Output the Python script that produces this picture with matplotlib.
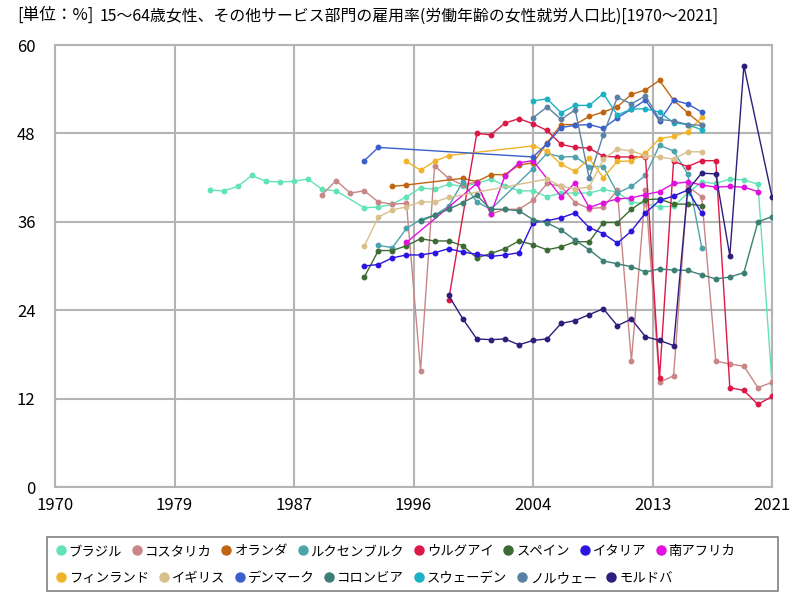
import matplotlib as mpl
import matplotlib.pyplot as plt
from matplotlib.patches import Rectangle

mpl.rcParams['font.family'] = ['Noto Sans CJK JP', 'DejaVu Sans']
mpl.rcParams['axes.unicode_minus'] = False

brazil_years = [1981, 1982, 1983, 1984, 1985, 1986, 1987, 1988, 1989, 1990,
                1992, 1993, 1994, 1995, 1996, 1997, 1998, 1999, 2000, 2001,
                2002, 2003, 2004, 2005, 2006, 2007, 2008, 2009, 2010, 2011,
                2012, 2013, 2014, 2015, 2016, 2017, 2018, 2019, 2020, 2021]
brazil_vals = [40.3, 40.2, 40.8, 42.3, 41.5, 41.4, 41.5, 41.8, 40.4, 40.2,
               37.9, 38.0, 38.4, 39.4, 40.6, 40.4, 41.1, 40.8, 41.2, 41.8,
               40.9, 40.2, 40.2, 39.4, 39.9, 39.9, 39.9, 40.4, 40.0, 38.7,
               38.4, 38.05, 38.1, 39.9, 41.4, 41.2, 41.8, 41.7, 41.1, 14.1]

costa_years = [1989, 1990, 1991, 1992, 1993, 1994, 1995, 1996, 1997, 1998,
               1999, 2000, 2001, 2002, 2003, 2004, 2005, 2006, 2007, 2008,
               2009, 2010, 2011, 2012, 2013, 2014, 2015, 2016, 2017, 2018,
               2019, 2020, 2021]
costa_vals = [39.7, 41.6, 39.9, 40.2, 38.7, 38.4, 38.5, 15.8, 43.6, 41.9,
              41.0, 41.4, 37.05, 37.7, 37.7, 38.9, 41.2, 40.8, 38.6, 37.8,
              37.95, 40.3, 17.1, 40.3, 14.2, 15.1, 40.8, 39.4, 17.1, 16.7,
              16.4, 13.5, 14.2]

nether_years = [1994, 1995, 1999, 2000, 2001, 2002, 2003, 2004, 2005, 2006,
                2007, 2008, 2009, 2010, 2011, 2012, 2013, 2014, 2015, 2016]
nether_vals = [40.8, 41.0, 41.9, 41.45, 42.4, 42.4, 43.7, 44.0, 46.7, 49.2,
               49.2, 50.3, 50.9, 51.6, 53.3, 53.9, 55.2, 52.5, 50.8, 49.2]

lux_years = [1993, 1994, 1995, 1996, 1997, 1998, 1999, 2000, 2001, 2004,
             2005, 2006, 2007, 2008, 2009, 2010, 2011, 2012, 2013, 2014,
             2015, 2016]
lux_vals = [32.8, 32.5, 35.1, 36.3, 36.9, 38.1, 41.4, 38.7, 37.7, 43.2,
            45.3, 44.8, 44.85, 43.5, 43.5, 39.9, 40.8, 42.3, 46.4, 45.6,
            42.5, 32.5]

uru_years = [1998, 2000, 2001, 2002, 2003, 2004, 2005, 2006, 2007, 2008,
             2009, 2010, 2011, 2012, 2013, 2014, 2015, 2016, 2017, 2018,
             2019, 2020, 2021]
uru_vals = [25.4, 48.0, 47.8, 49.4, 50.0, 49.3, 48.4, 46.5, 46.1, 46.0,
            44.9, 44.8, 44.8, 44.8, 14.8, 44.2, 43.5, 44.3, 44.3, 13.5,
            13.1, 11.2, 12.3]

spain_years = list(range(1992, 2017))
spain_vals = [28.5, 32.1, 32.1, 32.75, 33.7, 33.4, 33.4, 32.75, 31.1, 31.7,
              32.35, 33.4, 32.9, 32.2, 32.6, 33.3, 33.3, 35.9, 35.9, 37.7,
              39.0, 39.1, 38.4, 38.4, 38.2]

italy_years = list(range(1992, 2017))
italy_vals = [30.0, 30.2, 31.1, 31.5, 31.5, 31.8, 32.35, 31.9, 31.6, 31.3,
              31.5, 31.8, 35.9, 36.15, 36.55, 37.2, 35.2, 34.4, 33.1, 34.75,
              37.2, 38.9, 39.5, 40.3, 37.15]

safrica_years = [1995, 2000, 2001, 2002, 2003, 2004, 2006, 2007, 2008, 2009,
                 2010, 2011, 2012, 2013, 2014, 2015, 2016, 2017, 2018, 2019,
                 2020]
safrica_vals = [33.2, 41.2, 37.1, 42.2, 44.0, 44.3, 39.4, 41.3, 37.95, 38.6,
                39.1, 39.25, 39.7, 40.1, 41.2, 41.4, 41.0, 40.7, 40.8, 40.7,
                40.1]

fin_years = [1995, 1996, 1997, 1998, 2004, 2005, 2006, 2007, 2008, 2009,
             2010, 2011, 2012, 2013, 2014, 2015, 2016]
fin_vals = [44.2, 43.0, 44.2, 45.0, 46.3, 45.6, 43.8, 42.85, 44.6, 42.0,
            44.2, 44.25, 45.3, 47.3, 47.6, 48.2, 50.2]

uk_years = [1992, 1993, 1994, 1995, 1996, 1997, 1998, 2005, 2006, 2007,
            2008, 2009, 2010, 2011, 2012, 2013, 2014, 2015, 2016]
uk_vals = [32.7, 36.65, 37.6, 38.05, 38.7, 38.7, 39.3, 41.8, 40.8, 40.5,
           40.7, 44.5, 45.9, 45.6, 45.0, 44.8, 44.5, 45.5, 45.5]

den_years = [1992, 1993, 2004, 2005, 2006, 2007, 2008, 2009, 2010, 2011,
             2012, 2013, 2014, 2015, 2016]
den_vals = [44.3, 46.1, 44.8, 46.6, 48.8, 49.1, 49.2, 48.7, 50.1, 51.3,
            52.5, 49.7, 52.5, 52.0, 50.9]

col_years = list(range(1996, 2022))
col_vals = [36.1, 36.9, 37.7, 38.6, 39.6, 37.7, 37.7, 37.5, 36.3, 35.85,
            34.9, 33.5, 32.2, 30.7, 30.3, 29.9, 29.2, 29.6, 29.45, 29.4,
            28.8, 28.25, 28.5, 29.1, 36.0, 36.7]

swe_years = list(range(2004, 2017))
swe_vals = [52.4, 52.7, 50.8, 51.8, 51.8, 53.4, 50.5, 51.3, 51.35, 50.9,
            49.45, 49.2, 48.5]

nor_years = list(range(2004, 2017))
nor_vals = [50.1, 51.6, 49.9, 51.2, 41.9, 47.8, 52.9, 52.0, 53.1, 49.9,
            49.7, 49.2, 49.1]

mol_years = [1998, 1999, 2000, 2001, 2002, 2003, 2004, 2005, 2006, 2007,
             2008, 2009, 2010, 2011, 2012, 2013, 2014, 2015, 2016, 2017,
             2018, 2019, 2021]
mol_vals = [26.0, 22.85, 20.1, 20.0, 20.1, 19.3, 19.9, 20.1, 22.2, 22.6,
            23.4, 24.2, 21.9, 22.8, 20.4, 19.9, 19.2, 40.3, 42.6, 42.5,
            31.4, 57.2, 39.4]

names = ['ブラジル', 'コスタリカ', 'オランダ', 'ルクセンブルク', 'ウルグアイ', 'スペイン',
         'イタリア', '南アフリカ', 'フィンランド', 'イギリス', 'デンマーク', 'コロンビア',
         'スウェーデン', 'ノルウェー', 'モルドバ']
series = [(brazil_years, brazil_vals), (costa_years, costa_vals),
          (nether_years, nether_vals), (lux_years, lux_vals),
          (uru_years, uru_vals), (spain_years, spain_vals),
          (italy_years, italy_vals), (safrica_years, safrica_vals),
          (fin_years, fin_vals), (uk_years, uk_vals),
          (den_years, den_vals), (col_years, col_vals),
          (swe_years, swe_vals), (nor_years, nor_vals),
          (mol_years, mol_vals)]
colors = ['#62e3b6', '#c98687', '#c0640f', '#4ca3ac', '#dc1846', '#3c6b33',
          '#2b14e0', '#e010e0', '#f0b32a', '#d9bf8b', '#3a5fcd', '#3d7f74',
          '#1bb1c4', '#5b80a6', '#2f1c7c']

fig = plt.figure(figsize=(8, 6), dpi=100)
ax = fig.add_axes([55 / 800, 113 / 600, 717 / 800, 442 / 600])

handles = []
for (yrs, vals), name, c in zip(series, names, colors):
    ax.plot(yrs, vals, color=c, lw=1.0, marker='o', ms=3.2, zorder=3)
    h, = ax.plot([], [], ls='none', marker='o', ms=6.5, color=c, label=name)
    handles.append(h)

ax.set_xlim(1970, 2021)
ax.set_ylim(0, 60)
xt = [1970 + i * 51 / 6 for i in range(7)]
ax.set_xticks(xt)
ax.set_xticklabels(['1970', '1979', '1987', '1996', '2004', '2013', '2021'], fontsize=12)
ax.set_yticks(range(0, 61, 12))
ax.set_yticklabels([str(v) for v in range(0, 61, 12)], fontsize=12)
ax.tick_params(axis='x', length=0, pad=7)
ax.tick_params(axis='y', length=0, pad=14)
ax.grid(True, color='#b4b4b4', lw=1.5)
for s in ax.spines.values():
    s.set_color('#b4b4b4')
    s.set_linewidth(1.5)
ax.set_axisbelow(True)

fig.text(17 / 800, 1 - 15 / 600, '[単位：%]', fontsize=12, va='center', ha='left')
fig.text(100 / 800, 1 - 16 / 600,
         '15～64歳女性、その他サービス部門の雇用率(労働年齢の女性就労人口比)[1970～2021]',
         fontsize=11.4, va='center', ha='left')

# legend: two rows laid out independently, with one frame round both
rows = [(list(range(0, 8)), 551), (list(range(8, 15)), 578)]
for idx, ypx in rows:
    fig.legend([handles[i] for i in idx], [names[i] for i in idx],
               ncol=len(idx), loc='center left',
               bbox_to_anchor=(48 / 800, 1 - ypx / 600),
               fontsize=9.6, frameon=False,
               handlelength=0.5, handletextpad=0.35, columnspacing=0.85,
               borderpad=0.2)
fig.add_artist(Rectangle((47 / 800, 1 - 591 / 600), 731 / 800, 54 / 600,
                         transform=fig.transFigure, fill=False,
                         edgecolor='#808080', lw=1.2))

fig.savefig('out.png', dpi=100)
